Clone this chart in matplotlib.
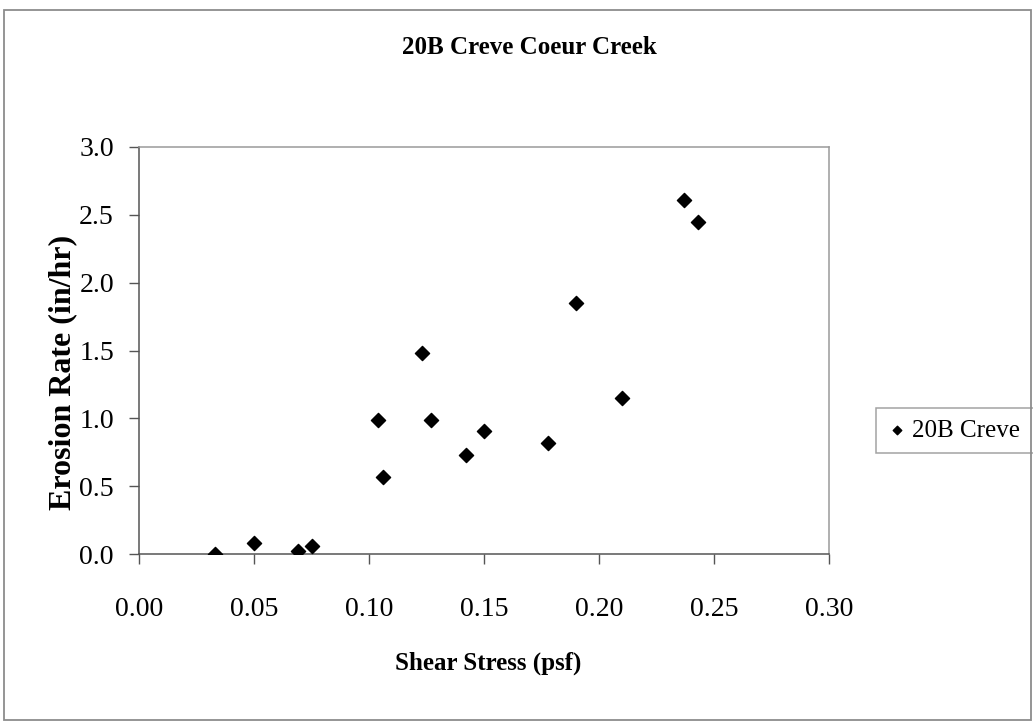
import matplotlib
matplotlib.use("Agg")
import matplotlib.pyplot as plt
from matplotlib.patches import Rectangle

# shear stress (psf) and erosion rate (in/hr)
shear_stress = [0.033, 0.050, 0.069, 0.075, 0.104, 0.106, 0.123, 0.127,
                0.142, 0.150, 0.178, 0.190, 0.210, 0.237, 0.243]
erosion_rate = [0.00, 0.08, 0.02, 0.06, 0.99, 0.57, 1.48, 0.99,
                0.73, 0.91, 0.82, 1.85, 1.15, 2.61, 2.45]
x_ticks = [0.00, 0.05, 0.10, 0.15, 0.20, 0.25, 0.30]
y_ticks = [0.0, 0.5, 1.0, 1.5, 2.0, 2.5, 3.0]

plt.rcParams["font.family"] = ["Liberation Serif", "DejaVu Serif"]

W, H = 1033, 725
fig = plt.figure(figsize=(W / 100, H / 100), dpi=100)


def fx(px):
    return px / W


def fy(py):
    return 1 - py / H


# outer chart frame
fig.patches.append(Rectangle((fx(4), fy(720)), fx(1031) - fx(4), fy(10) - fy(720),
                             transform=fig.transFigure, fill=False,
                             edgecolor="#8c8c8c", linewidth=1.3))

ax = fig.add_axes([fx(139), fy(554), fx(829) - fx(139), fy(147) - fy(554)])
# legend runs past the right edge in the original, so pad the label with nbsp
ax.scatter(shear_stress, erosion_rate, marker="D", s=52, color="black",
           label="20B Creve" + "\u00a0" * 6, zorder=3)

ax.set_xlim(0, 0.30)
ax.set_ylim(0, 3.0)
ax.set_xticks(x_ticks)
ax.set_xticklabels([f"{v:.2f}" for v in x_ticks])
ax.set_yticks(y_ticks)
ax.set_yticklabels([f"{v:.1f}" for v in y_ticks])
ax.tick_params(axis="x", direction="out", length=7, width=1, color="#555555",
               pad=24, labelsize=20)
ax.tick_params(axis="y", direction="out", length=7, width=1, color="#555555",
               pad=11, labelsize=20)

for side in ["left", "bottom"]:
    ax.spines[side].set_color("#555555")
    ax.spines[side].set_linewidth(1.1)
for side in ["top", "right"]:
    ax.spines[side].set_color("#9a9a9a")
    ax.spines[side].set_linewidth(1.1)

fig.text(fx(529), fy(48), "20B Creve Coeur Creek", ha="center", va="center",
         fontsize=18, fontweight="bold")
fig.text(fx(488), fy(663), "Shear Stress (psf)", ha="center", va="center",
         fontsize=18, fontweight="bold")
fig.text(fx(63), fy(372), "Erosion Rate (in/hr)", ha="center", va="center",
         rotation=90, fontsize=23, fontweight="bold")

leg = ax.legend(loc="upper left", bbox_to_anchor=(fx(876), fy(408)),
                bbox_transform=fig.transFigure, fontsize=18, frameon=True,
                fancybox=False, handletextpad=0.2, handlelength=0.8,
                borderpad=0.45, markerscale=0.6, borderaxespad=0)
leg.get_frame().set_edgecolor("#8c8c8c")
leg.get_frame().set_linewidth(1.1)

fig.savefig("out.png", dpi=100, facecolor="white")
